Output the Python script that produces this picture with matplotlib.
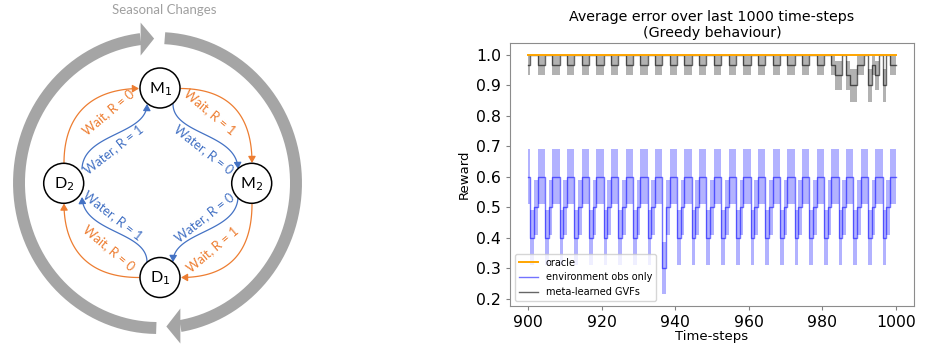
import numpy as np
import matplotlib
matplotlib.use("Agg")
import matplotlib.pyplot as plt
from matplotlib.patches import Circle, FancyArrowPatch, Polygon
from matplotlib.path import Path

# ---------------- data (right chart) ----------------
timesteps = np.arange(900, 1001)

oracle = [
    1.0, 1.0, 1.0, 1.0, 1.0, 1.0, 1.0, 1.0, 1.0, 1.0, 1.0, 1.0, 1.0, 1.0, 1.0, 1.0, 1.0, 1.0, 1.0, 1.0,
    1.0, 1.0, 1.0, 1.0, 1.0, 1.0, 1.0, 1.0, 1.0, 1.0, 1.0, 1.0, 1.0, 1.0, 1.0, 1.0, 1.0, 1.0, 1.0, 1.0,
    1.0, 1.0, 1.0, 1.0, 1.0, 1.0, 1.0, 1.0, 1.0, 1.0, 1.0, 1.0, 1.0, 1.0, 1.0, 1.0, 1.0, 1.0, 1.0, 1.0,
    1.0, 1.0, 1.0, 1.0, 1.0, 1.0, 1.0, 1.0, 1.0, 1.0, 1.0, 1.0, 1.0, 1.0, 1.0, 1.0, 1.0, 1.0, 1.0, 1.0,
    1.0, 1.0, 1.0, 1.0, 1.0, 1.0, 1.0, 1.0, 1.0, 1.0, 1.0, 1.0, 1.0, 1.0, 1.0, 1.0, 1.0, 1.0, 1.0, 1.0,
    1.0,
]

env_mean = [
    0.6, 0.4, 0.5, 0.6, 0.6, 0.4, 0.5, 0.6, 0.6, 0.4, 0.5, 0.6, 0.6, 0.4, 0.5, 0.6, 0.6, 0.4, 0.5, 0.6,
    0.6, 0.4, 0.5, 0.6, 0.6, 0.4, 0.5, 0.6, 0.6, 0.4, 0.5, 0.6, 0.6, 0.4, 0.5, 0.6, 0.6, 0.3, 0.5, 0.6,
    0.6, 0.4, 0.5, 0.6, 0.6, 0.4, 0.5, 0.6, 0.6, 0.4, 0.5, 0.6, 0.6, 0.4, 0.5, 0.6, 0.6, 0.4, 0.5, 0.6,
    0.6, 0.4, 0.5, 0.6, 0.6, 0.4, 0.5, 0.6, 0.6, 0.4, 0.5, 0.6, 0.6, 0.4, 0.5, 0.6, 0.6, 0.4, 0.5, 0.6,
    0.6, 0.4, 0.5, 0.6, 0.6, 0.4, 0.5, 0.6, 0.6, 0.4, 0.5, 0.6, 0.6, 0.4, 0.5, 0.6, 0.6, 0.4, 0.5, 0.6,
    0.6,
]
env_std = [
    0.09, 0.09, 0.09, 0.09, 0.09, 0.09, 0.09, 0.09, 0.09, 0.09, 0.09, 0.09, 0.09, 0.09, 0.09, 0.09, 0.09, 0.09, 0.09, 0.09,
    0.09, 0.09, 0.09, 0.09, 0.09, 0.09, 0.09, 0.09, 0.09, 0.09, 0.09, 0.09, 0.09, 0.09, 0.09, 0.09, 0.09, 0.085, 0.09, 0.09,
    0.09, 0.09, 0.09, 0.09, 0.09, 0.09, 0.09, 0.09, 0.09, 0.09, 0.09, 0.09, 0.09, 0.09, 0.09, 0.09, 0.09, 0.09, 0.09, 0.09,
    0.09, 0.09, 0.09, 0.09, 0.09, 0.09, 0.09, 0.09, 0.09, 0.09, 0.09, 0.09, 0.09, 0.09, 0.09, 0.09, 0.09, 0.09, 0.09, 0.09,
    0.09, 0.09, 0.09, 0.09, 0.09, 0.09, 0.09, 0.09, 0.09, 0.09, 0.09, 0.09, 0.09, 0.09, 0.09, 0.09, 0.09, 0.09, 0.09, 0.09,
    0.09,
]

meta_mean = [
    0.967, 1.0, 1.0, 0.967, 0.967, 1.0, 1.0, 0.967, 0.967, 1.0, 1.0, 0.967, 0.967, 1.0, 1.0, 0.967, 0.967, 1.0, 1.0, 0.967,
    0.967, 1.0, 1.0, 0.967, 0.967, 1.0, 1.0, 0.967, 0.967, 1.0, 1.0, 0.967, 0.967, 1.0, 1.0, 0.967, 0.967, 1.0, 1.0, 0.967,
    0.967, 1.0, 1.0, 0.967, 0.967, 1.0, 1.0, 0.967, 0.967, 1.0, 1.0, 0.967, 0.967, 1.0, 1.0, 0.967, 0.967, 1.0, 1.0, 0.967,
    0.967, 1.0, 1.0, 0.967, 0.967, 1.0, 1.0, 0.967, 0.967, 1.0, 1.0, 0.967, 0.967, 1.0, 1.0, 0.967, 0.967, 1.0, 1.0, 0.967,
    0.967, 1.0, 1.0, 0.967, 0.933, 0.933, 1.0, 0.933, 0.9, 0.9, 0.967, 0.967, 1.0, 0.9, 0.967, 0.933, 1.0, 0.9, 1.0, 0.967,
    0.967,
]
meta_std = [
    0.033, 0.0, 0.0, 0.033, 0.033, 0.0, 0.0, 0.033, 0.033, 0.0, 0.0, 0.033, 0.033, 0.0, 0.0, 0.033, 0.033, 0.0, 0.0, 0.033,
    0.033, 0.0, 0.0, 0.033, 0.033, 0.0, 0.0, 0.033, 0.033, 0.0, 0.0, 0.033, 0.033, 0.0, 0.0, 0.033, 0.033, 0.0, 0.0, 0.033,
    0.033, 0.0, 0.0, 0.033, 0.033, 0.0, 0.0, 0.033, 0.033, 0.0, 0.0, 0.033, 0.033, 0.0, 0.0, 0.033, 0.033, 0.0, 0.0, 0.033,
    0.033, 0.0, 0.0, 0.033, 0.033, 0.0, 0.0, 0.033, 0.033, 0.0, 0.0, 0.033, 0.033, 0.0, 0.0, 0.033, 0.033, 0.0, 0.0, 0.033,
    0.033, 0.0, 0.0, 0.033, 0.047, 0.047, 0.0, 0.047, 0.054, 0.054, 0.033, 0.033, 0.0, 0.054, 0.033, 0.047, 0.0, 0.054, 0.0, 0.033,
    0.033,
]

x_ticks = [900, 920, 940, 960, 980, 1000]
y_ticks = [0.2, 0.3, 0.4, 0.5, 0.6, 0.7, 0.8, 0.9, 1.0]
series_labels = ["oracle", "environment obs only", "meta-learned GVFs"]

# ---------------- diagram content (left) ----------------
node_names = ["M$_1$", "M$_2$", "D$_1$", "D$_2$"]
wait_labels = ["Wait, R = 0", "Wait, R = 1", "Wait, R = 1", "Wait, R = 0"]
water_labels = ["Water, R = 1", "Water, R = 0", "Water, R = 0", "Water, R = 1"]

ORANGE = "#ED7D31"
BLUE = "#4472C4"
RING = "#A5A5A5"
DIAG_FONT = ["Lato", "DejaVu Sans"]

fig = plt.figure(figsize=(9.25, 3.45), dpi=100)

# ================= Left: diagram (pixel coordinates) =================
axL = fig.add_axes([0, 0, 310 / 925, 1])
axL.set_xlim(0, 310)
axL.set_ylim(345, 0)
axL.axis("off")

axL.text(164, 10, "Seasonal Changes", color="#A0A0A0", fontsize=9.5,
         family=DIAG_FONT, ha="center", va="center")

# seasonal ring (two clockwise arcs with heads)
cx, cy, rx, ry = 157.5, 183.0, 138.5, 145.0
def ell(t_deg):
    t = np.radians(t_deg)
    return cx + rx * np.cos(t), cy - ry * np.sin(t)

for a0, a1 in [(269.5, 97.0), (87.0, -80.5)]:
    th = np.linspace(a0, a1, 200)
    xs, ys = ell(th)
    axL.plot(xs, ys, color=RING, lw=8.6, solid_capstyle="butt")
tx, ty = ell(97.0)
axL.add_patch(Polygon([[tx, ty - 16.5], [tx, ty + 16.5], [tx + 13.5, ty - 0.5]],
                      closed=True, color=RING, lw=0))
bx, by = ell(-80.5)
axL.add_patch(Polygon([[bx, by - 17.5], [bx, by + 17.5], [bx - 14, by + 0.5]],
                      closed=True, color=RING, lw=0))

# nodes
node_xy = [(160, 88), (251.7, 183.3), (160, 277.5), (63.7, 183.3)]
for (nx, ny), nm in zip(node_xy, node_names):
    axL.add_patch(Circle((nx, ny), 20, facecolor="white", edgecolor="black", lw=1.1, zorder=3))
    axL.text(nx, ny + 1, nm, fontsize=11.5, family=DIAG_FONT, ha="center", va="center", zorder=4)

tt = np.linspace(0, 1, 80)[:, None]
def bez(c):
    p0, p1, p2, p3 = [np.array(p, float) for p in c]
    return ((1 - tt) ** 3) * p0 + 3 * ((1 - tt) ** 2) * tt * p1 + 3 * (1 - tt) * tt ** 2 * p2 + tt ** 3 * p3

ARROW = "-|>,head_length=0.55,head_width=0.32"

# orange "Wait" arcs
wait_ctrl = [
    [(64, 163), (64, 118), (88, 89), (139, 88.5)],
    [(181, 88.5), (232, 89), (252, 118), (252, 163)],
    [(252, 203.5), (252, 249), (232, 277.5), (181, 277.5)],
    [(139, 277.5), (88, 277.5), (64, 249), (64, 203.5)],
]
for c in wait_ctrl:
    axL.add_patch(FancyArrowPatch(path=Path(bez(c)), arrowstyle=ARROW,
                                  mutation_scale=7, color=ORANGE, lw=0.9, shrinkA=0, shrinkB=0))

# blue "Water" S-curves
water_ctrl = [
    [(82, 169), (83, 133), (147, 135), (147, 104)],
    [(173, 104), (173, 135), (237, 133), (238, 169)],
    [(238, 197), (237, 233), (173, 231), (173, 262)],
    [(147, 262), (147, 231), (83, 233), (82, 197)],
]
for c in water_ctrl:
    axL.add_patch(FancyArrowPatch(path=Path(bez(c)), arrowstyle=ARROW,
                                  mutation_scale=7, color=BLUE, lw=0.9, shrinkA=0, shrinkB=0))

wait_pos = [(108, 112, 40), (210, 112, -40), (212, 249, 40), (109, 248, -40)]
for (lx, ly, rot), lab in zip(wait_pos, wait_labels):
    axL.text(lx, ly, lab, color=ORANGE, fontsize=9.3, family=DIAG_FONT, rotation=rot,
             rotation_mode="anchor", ha="center", va="center")
water_pos = [(114, 149, 38), (204, 149, -38), (205, 217, 38), (113, 215, -38)]
for (lx, ly, rot), lab in zip(water_pos, water_labels):
    axL.text(lx, ly, lab, color=BLUE, fontsize=9.3, family=DIAG_FONT, rotation=rot,
             rotation_mode="anchor", ha="center", va="center")

# ================= Right: chart =================
ax = fig.add_axes([510 / 925, 39 / 345, 404 / 925, 263 / 345])

env_mean_a = np.array(env_mean)
env_std_a = np.array(env_std)
meta_mean_a = np.array(meta_mean)
meta_std_a = np.array(meta_std)

ax.plot(timesteps, oracle, color="orange", lw=1.4, drawstyle="steps-mid", label=series_labels[0], zorder=3)
ax.fill_between(timesteps, env_mean_a - env_std_a, env_mean_a + env_std_a, step="mid",
                color="blue", alpha=0.3, lw=0)
ax.plot(timesteps, env_mean, color="blue", alpha=0.55, lw=1.0, drawstyle="steps-mid", label=series_labels[1])
ax.fill_between(timesteps, meta_mean_a - meta_std_a, meta_mean_a + meta_std_a, step="mid",
                color="black", alpha=0.3, lw=0)
ax.plot(timesteps, meta_mean, color="black", alpha=0.6, lw=1.0, drawstyle="steps-mid", label=series_labels[2])

ax.set_xticks(x_ticks)
ax.set_yticks(y_ticks)
ax.tick_params(labelsize=11.3, length=3, color="0.5")
for s in ax.spines.values():
    s.set_color("0.55")
    s.set_linewidth(0.8)

ax.set_title("Average error over last 1000 time-steps\n(Greedy behaviour)", fontsize=10.3, pad=4)
ax.set_xlabel("Time-steps", fontsize=9.5, labelpad=0)
ax.set_ylabel("Reward", fontsize=9.5, labelpad=4)
ax.legend(loc="lower left", fontsize=7, handlelength=2.0, framealpha=0.8)

fig.savefig("out.png", dpi=100)
